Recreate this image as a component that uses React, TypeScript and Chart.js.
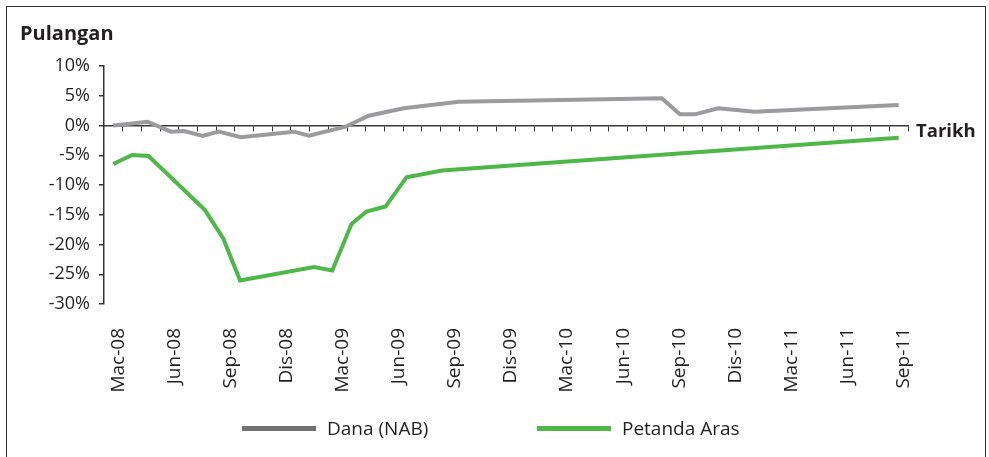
import React, { useEffect, useRef } from 'react';
import { Chart, registerables } from 'chart.js';

Chart.register(...registerables);

// ---- data ----
const xTickLabels = ['Mac-08', 'Jun-08', 'Sep-08', 'Dis-08', 'Mac-09', 'Jun-09', 'Sep-09', 'Dis-09', 'Mac-10', 'Jun-10', 'Sep-10', 'Dis-10', 'Mac-11', 'Jun-11', 'Sep-11'];
const xTickMonths = [0, 3, 6, 9, 12, 15, 18, 21, 24, 27, 30, 33, 36, 39, 42];
const yTickValues = [-30, -25, -20, -15, -10, -5, 0, 5, 10];

// months counted from Mac-08 (0) to Sep-11 (42)
const danaMonths = [0, 1.83, 3.08, 3.79, 4.77, 5.65, 6.81, 9.66, 10.46, 12.42, 13.66, 15.53, 18.47, 29.33, 30.3, 31.1, 32.35, 34.3, 42];
const danaValues = [0, 0.64, -1.04, -0.92, -1.76, -1.04, -1.98, -1.04, -1.71, -0.2, 1.64, 2.89, 3.99, 4.56, 1.88, 1.88, 2.89, 2.32, 3.44];

const arasMonths = [0, 1, 1.88, 4.89, 5.87, 6.78, 10.73, 11.71, 12.74, 13.54, 14.56, 15.68, 17.58, 42];
const arasValues = [-6.46, -4.95, -5.12, -14.18, -18.93, -26.04, -23.79, -24.36, -16.53, -14.46, -13.62, -8.69, -7.58, -2.05];

const seriesNames = ['Dana (NAB)', 'Petanda Aras'];
const lineColors = ['#9a9b9e', '#4db848'];
const legendColors = ['#707174', '#4db848'];

const FONT = '"Open Sans", "Noto Sans", sans-serif';
const TEXT = '#231f20';

export default function App() {
  const ref = useRef<HTMLCanvasElement | null>(null);

  useEffect(() => {
    if (!ref.current) return;
    const boundaries: number[] = [];
    for (let i = 0; i < xTickMonths[xTickMonths.length - 1] + 1; i++) boundaries.push(i + 0.5);

    const chart = new Chart(ref.current, {
      type: 'line',
      data: {
        datasets: [
          {
            label: seriesNames[0],
            data: danaMonths.map((m, i) => ({ x: m, y: danaValues[i] })),
            borderColor: lineColors[0],
            backgroundColor: lineColors[0],
            borderWidth: 4,
            pointRadius: 0,
            tension: 0,
          },
          {
            label: seriesNames[1],
            data: arasMonths.map((m, i) => ({ x: m, y: arasValues[i] })),
            borderColor: lineColors[1],
            backgroundColor: lineColors[1],
            borderWidth: 4,
            pointRadius: 0,
            tension: 0,
          },
        ],
      },
      options: {
        animation: false,
        responsive: false,
        maintainAspectRatio: false,
        events: [],
        layout: { padding: { top: 66, right: 81, left: 0, bottom: 0 } },
        plugins: { legend: { display: false }, tooltip: { enabled: false }, title: { display: false } },
        scales: {
          x: {
            type: 'linear',
            position: 'bottom',
            min: -0.5,
            max: 42.5,
            afterBuildTicks: (s: any) => { s.ticks = xTickMonths.map((v) => ({ value: v })); },
            afterFit: (s: any) => { s.height = 153; },
            grid: { display: false },
            border: { display: false },
            ticks: {
              autoSkip: false,
              minRotation: 90,
              maxRotation: 90,
              padding: 16,
              labelOffset: 5,
              color: TEXT,
              font: { family: FONT, size: 19 },
              callback: (_v: any, i: number) => xTickLabels[i],
            },
          },
          x2: {
            type: 'linear',
            position: { y: 0 } as any,
            min: -0.5,
            max: 42.5,
            afterBuildTicks: (s: any) => { s.ticks = boundaries.map((v) => ({ value: v })); },
            ticks: { display: false },
            grid: { drawOnChartArea: false, drawTicks: true, tickLength: 5, color: '#333', lineWidth: 1 },
            border: { display: true, color: '#3a3a3a', width: 1.5 },
          },
          y: {
            type: 'linear',
            min: -30,
            max: 10,
            afterBuildTicks: (s: any) => { s.ticks = yTickValues.map((v) => ({ value: v })); },
            afterFit: (s: any) => { s.width = 104; },
            grid: { drawOnChartArea: false, drawTicks: true, tickLength: 5, color: '#333', lineWidth: 1.5 },
            border: { display: true, color: '#333', width: 1.5 },
            ticks: {
              padding: 9,
              color: TEXT,
              font: { family: FONT, size: 18 },
              callback: (v: any) => v + '%',
            },
          },
        },
      } as any,
    });
    return () => chart.destroy();
  }, []);

  return (
    <div style={{ position: 'fixed', left: 0, top: 0, width: 989, height: 457, overflow: 'hidden', background: '#fff' }}>
      <div style={{ position: 'absolute', left: 6, top: 6, width: 978, height: 470, border: '1px solid #333', borderBottom: 'none' }} />
      <canvas ref={ref} width={989} height={457} style={{ position: 'absolute', left: 0, top: 0, width: 989, height: 457 }} />
      <div style={{ position: 'absolute', left: 20, top: 23, lineHeight: '20px', fontFamily: FONT, fontWeight: 700, fontSize: 20, color: TEXT }}>Pulangan</div>
      <div style={{ position: 'absolute', left: 916, top: 120, lineHeight: '20px', fontFamily: FONT, fontWeight: 700, fontSize: 18.5, color: TEXT }}>Tarikh</div>
      {seriesNames.map((name, i) => (
        <div key={name} style={{ position: 'absolute', left: i === 0 ? 242 : 537, top: 416, height: 24, display: 'flex', alignItems: 'center', fontFamily: FONT, fontSize: 19, color: TEXT, whiteSpace: 'nowrap' }}>
          <span style={{ display: 'inline-block', width: 74, height: 5, background: legendColors[i], marginRight: 11 }} />
          <span>{name}</span>
        </div>
      ))}
    </div>
  );
}
